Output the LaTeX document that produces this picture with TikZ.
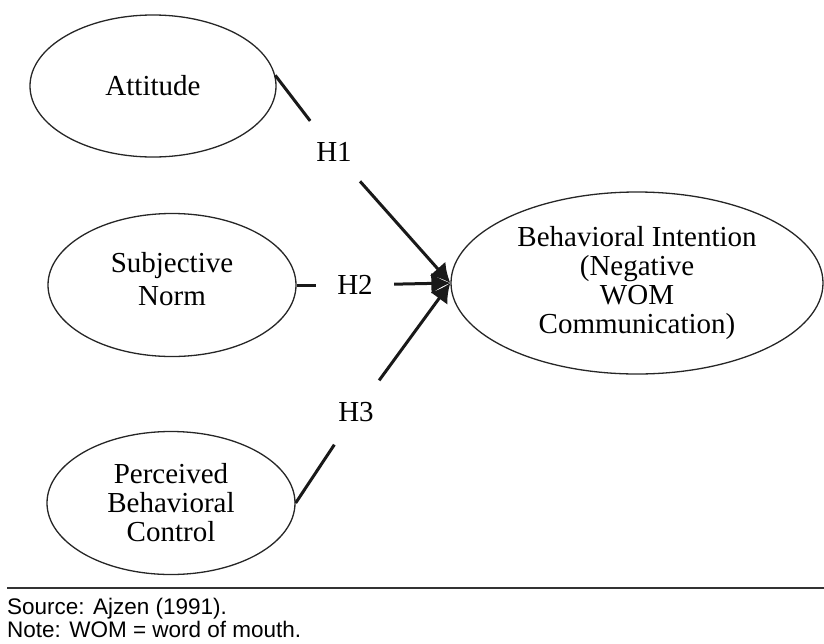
\documentclass[tikz,border=0pt]{standalone}
\usepackage{fontspec}
\setmainfont{Liberation Serif}
\newfontfamily\notefont{Liberation Sans}
\usetikzlibrary{shapes.geometric,arrows.meta}

\begin{document}
\begin{tikzpicture}[x=1pt,y=-1pt,
  construct/.style={draw=black!85,line width=1.3pt,ellipse,inner sep=0pt,
    align=center,font=\fontsize{29}{29}\selectfont},
  hyp/.style={circle,inner sep=0pt,minimum size=78pt,
    font=\fontsize{29}{29}\selectfont},
  path/.style={line width=3pt,draw=black!90},
  effect/.style={path,-{Latex[length=19pt,width=21pt]}},
  note/.style={anchor=base west,inner sep=0pt,font=\notefont\fontsize{22.5}{25}\selectfont}]

\useasboundingbox (0,0) rectangle (824,643);

% constructs
\node[construct,minimum width=246pt,minimum height=142pt] (att) at (153,86) {Attitude};
\node[construct,minimum width=248pt,minimum height=143pt,
  label={[name=sntext,align=center,font=\fontsize{29}{33}\selectfont,yshift=6pt]center:{Subjective\\Norm}}]
  (sn) at (172,285) {};
\node[construct,minimum width=248pt,minimum height=143pt] (pbc) at (171,503) {Perceived\\Behavioral\\Control};
\node[construct,minimum width=372pt,minimum height=182pt] (bi)  at (637,283)
  {Behavioral Intention\\(Negative\\WOM\\Communication)};

% hypothesis labels
\node[hyp] (h1) at (334,152) {H1};
\node[hyp] (h2) at (355,285) {H2};
\node[hyp] (h3) at (356,412) {H3};

% paths
\draw[path] (att.5) -- (h1);
\draw[effect] (h1) -- (bi.west);
\draw[path] (sn.east) -- (h2);
\draw[effect] (h2) -- (bi.west);
\draw[path] (pbc.east) -- (h3);
\draw[effect] (h3) -- (bi.west);

% footer
\coordinate (ruleL) at (7,588);
\coordinate (ruleR) at (824,588);
\draw[line width=1.6pt,black!80] (ruleL) -- (ruleR);
\node[note] (src) at (7,614) {Source: Ajzen (1991).};
\node[note] (nte) at (7,637) {Note: WOM = word of mouth.};
\end{tikzpicture}
\end{document}
